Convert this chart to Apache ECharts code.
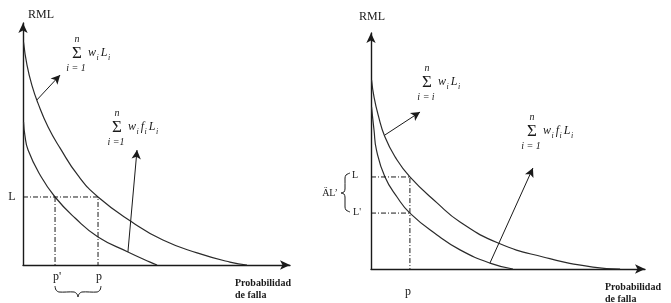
<!DOCTYPE html>
<html>
<head>
<meta charset="utf-8">
<script src="https://cdn.jsdelivr.net/npm/echarts/dist/echarts.min.js"></script>
<style>
  html, body { margin: 0; background: #fff; }
  #chart { width: 671px; height: 303px; }
</style>
</head>
<body>
<div id="chart"></div>
<script>
// panel izquierdo: curvas RML vs probabilidad de falla (escala 0-100)
const leftUpper = [[0.2,92],[1.5,82.6],[3.4,74.0],[5.6,66.9],[9.4,57.0],[13.9,48.3],[20.6,37.0],[28.1,28.1],[40.8,17.8],[52.4,10.3],[65.2,5.0],[77.5,1.2],[83.9,0]]
const leftLower = [[0.2,59.1],[0.7,53.7],[1.9,47.5],[6.4,37.2],[12.0,28.1],[19.5,19.4],[28.1,11.6],[39.3,5.4],[47.6,1.2],[50.2,0]]
const leftL = 28.1
const leftP = 28.1
const leftP2 = 12.0
const leftArrows = [[[5.2,68.2],[13.9,78.5]], [[39.3,5.4],[42.7,47.5]]]

// panel derecho
const rightUpper = [[0.2,80.1],[1.1,72.9],[2.6,65.3],[5.1,55.9],[8.8,47.5],[14.2,39.0],[24.1,28.0],[32.5,19.9],[46.4,11.0],[62.8,5.1],[81.0,0.8],[90.9,0]]
const rightLower = [[0.2,68.6],[1.1,58.9],[2.0,50.4],[5.1,39.0],[9.5,30.5],[14.2,23.7],[24.1,14.4],[32.5,8.1],[43.4,2.5],[51.8,0]]
const rightL = 39.0
const rightL2 = 23.7
const rightP = 14.2
const rightArrows = [[[5.1,56.8],[17.9,66.5]], [[43.4,2.5],[59.1,42.8]]]

const serif = '"Liberation Serif", "DejaVu Serif", serif'
const ink = '#1a1a1a'
const dash = [5, 2, 1, 2]

const ctx = document.createElement('canvas').getContext('2d')
const textWidth = (t, font) => { ctx.font = font; return ctx.measureText(t).width }

const txt = (x, y, text, font, align) => ({
  type: 'text', x: x, y: y, silent: true,
  style: { text: text, font: font, fill: ink, textAlign: align || 'left', textVerticalAlign: 'middle' }
})

// sumatoria con n arriba, i = 1 abajo y los términos con subíndice
function formula(x, y, terms, lower) {
  const out = [
    txt(x, y - 15, 'n', 'italic 10px ' + serif, 'center'),
    txt(x, y, '\u03A3', '17px ' + serif, 'center'),
    txt(x - 1, y + 14, lower, 'italic 10px ' + serif, 'center')
  ]
  let cx = x + 11
  const bf = 'italic 12px ' + serif, sf = 'italic 8px ' + serif
  terms.forEach(t => {
    out.push(txt(cx, y - 1, t, bf))
    cx += textWidth(t, bf) + 0.5
    out.push(txt(cx, y + 4, 'i', sf))
    cx += textWidth('i', sf) + 2
  })
  return out
}

const brace = (points) => ({
  type: 'polyline', silent: true,
  shape: { points: points, smooth: 0.3 },
  style: { fill: null, stroke: ink, lineWidth: 1 }
})

function axisPair(gridIndex) {
  const line = { show: true, onZero: false, symbol: ['none', 'arrow'], symbolSize: [7, 10], lineStyle: { color: ink, width: 1.4 } }
  return {
    x: { type: 'value', gridIndex: gridIndex, min: 0, max: 100, axisLine: line, axisTick: { show: false }, axisLabel: { show: false }, splitLine: { show: false } },
    y: { type: 'value', gridIndex: gridIndex, min: 0, max: 100, axisLine: line, axisTick: { show: false }, axisLabel: { show: false }, splitLine: { show: false } }
  }
}
const a0 = axisPair(0), a1 = axisPair(1)

const curve = (data, i) => ({
  type: 'line', xAxisIndex: i, yAxisIndex: i, data: data, symbol: 'none',
  smooth: 0.5, silent: true,
  lineStyle: { color: '#2b2b2b', width: 1.2 }
})
const guide = (data, i) => ({
  type: 'line', xAxisIndex: i, yAxisIndex: i, data: data, symbol: 'none', silent: true,
  lineStyle: { color: ink, width: 1, type: dash }
})
const arrows = (list, i) => ({
  type: 'line', xAxisIndex: i, yAxisIndex: i, data: [], silent: true,
  markLine: {
    silent: true, symbol: ['none', 'arrow'], symbolSize: [7, 9],
    label: { show: false },
    lineStyle: { color: ink, width: 1, type: 'solid' },
    data: list.map(a => [{ coord: a[0] }, { coord: a[1] }])
  }
})

const chart = echarts.init(document.getElementById('chart'), null, { renderer: 'canvas' })
chart.setOption({
  backgroundColor: '#fff',
  animation: false,
  grid: [
    { left: 23, top: 23, width: 267, height: 242 },
    { left: 371, top: 33, width: 274, height: 236 }
  ],
  xAxis: [a0.x, a1.x],
  yAxis: [a0.y, a1.y],
  series: [
    curve(leftUpper, 0),
    curve(leftLower, 0),
    guide([[0, leftL], [leftP, leftL], [leftP, 0]], 0),
    guide([[leftP2, leftL], [leftP2, 0]], 0),
    arrows(leftArrows, 0),
    curve(rightUpper, 1),
    curve(rightLower, 1),
    guide([[0, rightL], [rightP, rightL], [rightP, 0]], 1),
    guide([[0, rightL2], [rightP, rightL2]], 1),
    arrows(rightArrows, 1)
  ],
  graphic: [].concat(
    [
      txt(28, 15, 'RML', '12px ' + serif),
      txt(12, 197, 'L', '12px ' + serif, 'center'),
      txt(57, 277, "p'", '12px ' + serif, 'center'),
      txt(99, 277, 'p', '12px ' + serif, 'center'),
      txt(235, 283, 'Probabilidad', 'bold 10px ' + serif),
      txt(235, 295, 'de falla', 'bold 10px ' + serif),
      txt(372, 17, 'RML', '12px ' + serif, 'center'),
      txt(355, 175, 'L', '10px ' + serif, 'center'),
      txt(357, 212, "L'", '10px ' + serif, 'center'),
      txt(330, 193, '\u00C4L\u2019', '10px ' + serif, 'center'),
      txt(408, 292, 'p', '12px ' + serif, 'center'),
      txt(605, 287, 'Probabilidad', 'bold 10px ' + serif),
      txt(605, 299, 'de falla', 'bold 10px ' + serif),
      brace([[55,286],[56,290],[59,292],[74,292],[77,294],[78,297],[79,294],[82,292],[97,292],[100,290],[101,286]]),
      brace([[350,173],[346,175],[345,178],[345,189],[344,192],[341,193],[344,194],[345,197],[345,207],[346,210],[350,212]])
    ],
    formula(77, 54, ['w', 'L'], 'i = 1'),
    formula(117, 128, ['w', 'f', 'L'], 'i =1'),
    formula(427, 83, ['w', 'L'], 'i = i'),
    formula(532, 132, ['w', 'f', 'L'], 'i = 1')
  )
})
</script>
</body>
</html>
